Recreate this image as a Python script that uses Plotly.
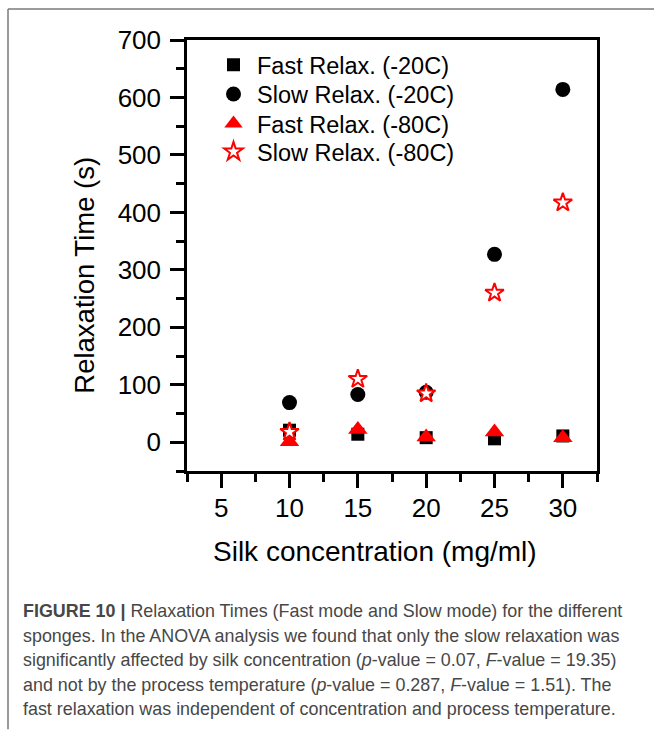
import plotly.graph_objects as go

# Silk concentration (mg/ml)
concentration = [10, 15, 20, 25, 30]

# Relaxation times (s)
fast_m20 = [21, 14, 8, 6, 11]
slow_m20 = [69, 83, 87, 327, 614]
fast_m80 = [1, 22, 9, 18, 8]
slow_m80 = [18, 110, 85, 260, 417]

series_names = ["Fast Relax. (-20C)", "Slow Relax. (-20C)",
                "Fast Relax. (-80C)", "Slow Relax. (-80C)"]

x_ticks = [5, 10, 15, 20, 25, 30]
y_ticks = [0, 100, 200, 300, 400, 500, 600, 700]

caption_lines = [
    "<b>FIGURE 10 |</b> Relaxation Times (Fast mode and Slow mode) for the different",
    "sponges. In the ANOVA analysis we found that only the slow relaxation was",
    "significantly affected by silk concentration (<i>p</i>-value = 0.07, <i>F</i>-value = 19.35)",
    "and not by the process temperature (<i>p</i>-value = 0.287, <i>F</i>-value = 1.51). The",
    "fast relaxation was independent of concentration and process temperature.",
]

W, H = 654, 730
L, R, T, B = 187, 597, 40, 471.5
FONT = "Liberation Sans, Arial, sans-serif"


def px(xp):
    return (xp - L) / (R - L)


def py(yp):
    return (B - yp) / (B - T)


legend_ids = ["legend", "legend2", "legend3", "legend4"]

fig = go.Figure()
fig.add_trace(go.Scatter(
    x=concentration, y=fast_m20, mode="markers", name=series_names[0], legend=legend_ids[0],
    marker=dict(symbol="square", size=13, color="black"),
))
fig.add_trace(go.Scatter(
    x=concentration, y=slow_m20, mode="markers", name=series_names[1], legend=legend_ids[1],
    marker=dict(symbol="circle", size=15, color="black"),
))
fig.add_trace(go.Scatter(
    x=concentration, y=fast_m80, mode="markers", name=series_names[2], legend=legend_ids[2],
    marker=dict(symbol="triangle-up", size=17, color="red"),
))
fig.add_trace(go.Scatter(
    x=concentration, y=slow_m80, mode="markers", name=series_names[3], legend=legend_ids[3],
    marker=dict(symbol="star", size=14, color="white", line=dict(width=2, color="red")),
))

axis_common = dict(
    showgrid=False, zeroline=False, showline=True, linecolor="black", linewidth=2.5,
    mirror=True, ticks="outside", ticklen=14, tickwidth=2.5, tickcolor="black",
    tickfont=dict(family=FONT, size=26, color="black"),
)

fig.update_xaxes(
    range=[2.5, 32.5], tickvals=x_ticks, ticklabelstandoff=-2,
    minor=dict(ticks="outside", dtick=2.5, tick0=0, ticklen=8, tickwidth=2.5,
               tickcolor="black", showgrid=False),
    **axis_common,
)
fig.update_yaxes(
    range=[-50, 700], tickvals=y_ticks, ticklabelstandoff=4,
    minor=dict(ticks="outside", dtick=50, tick0=0, ticklen=8, tickwidth=2.5,
               tickcolor="black", showgrid=False),
    **axis_common,
)

annotations = [
    dict(text="Relaxation Time (s)", x=px(85), y=py(276), xref="paper", yref="paper",
         textangle=-90, showarrow=False, xanchor="center", yanchor="middle",
         font=dict(family=FONT, size=27.5, color="black")),
    dict(text="Silk concentration (mg/ml)", x=px(375), y=py(552), xref="paper", yref="paper",
         showarrow=False, xanchor="center", yanchor="middle",
         font=dict(family=FONT, size=28, color="black")),
]
line_y = [611.7, 636.2, 660.7, 685.5, 710]
for text, yy in zip(caption_lines, line_y):
    annotations.append(dict(
        text=text, x=px(21), y=py(yy), xref="paper", yref="paper", showarrow=False,
        xanchor="left", yanchor="middle", align="left",
        font=dict(family=FONT, size=17.9, color="#474747"),
    ))

shapes = [
    dict(type="line", xref="paper", yref="paper", x0=px(8), x1=px(654), y0=py(9), y1=py(9),
         line=dict(color="#7a7a7a", width=1.5)),
    dict(type="line", xref="paper", yref="paper", x0=px(8), x1=px(8), y0=py(9), y1=py(730),
         line=dict(color="#7a7a7a", width=1.5)),
]

# one legend box per series so the rows sit at their own heights
legend_rows = [65, 94.3, 123.7, 152]
legend_style = dict(
    xanchor="left", yanchor="middle", bgcolor="rgba(0,0,0,0)", borderwidth=0,
    font=dict(family=FONT, size=23.5, color="black"), itemsizing="trace", itemwidth=37,
)
legend_layout = {}
for lid, row in zip(legend_ids, legend_rows):
    legend_layout[lid] = dict(x=px(210), y=py(row), **legend_style)

fig.update_layout(
    width=W, height=H,
    margin=dict(l=L, r=W - R, t=T, b=H - B, pad=0),
    paper_bgcolor="white", plot_bgcolor="white",
    showlegend=True,
    annotations=annotations,
    shapes=shapes,
    **legend_layout,
)

fig.write_html("out.html")
